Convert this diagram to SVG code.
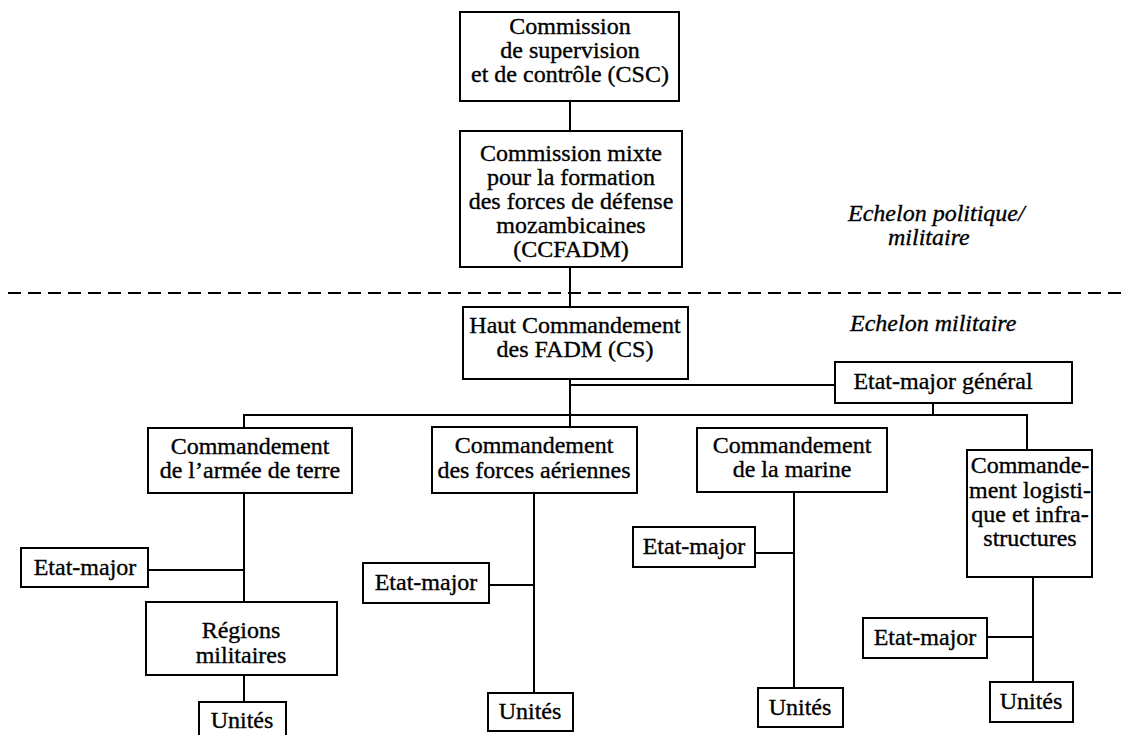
<svg xmlns="http://www.w3.org/2000/svg" width="1131" height="735" viewBox="0 0 1131 735">
<style>
  .box { fill: #ffffff; stroke: #000000; stroke-width: 2; }
  .ln { fill: none; stroke: #000000; stroke-width: 2; }
  .dash { fill: none; stroke: #000000; stroke-width: 2; stroke-dasharray: 13 7; }
  text { font-family: "Liberation Serif", "Times New Roman", serif; font-size: 24px; fill: #000000; stroke: #000000; stroke-width: 0.35; }
  .c { text-anchor: middle; }
  .it { font-style: italic; }
</style>
<rect width="1131" height="735" fill="#ffffff"/>
<g id="connectors">
  <line class="ln" x1="570" y1="101" x2="570" y2="131"/>
  <line class="ln" x1="570" y1="267" x2="570" y2="307"/>
  <line class="dash" x1="8" y1="293" x2="1122" y2="293"/>
  <line class="ln" x1="570" y1="379" x2="570" y2="427"/>
  <line class="ln" x1="570" y1="385" x2="835" y2="385"/>
  <line class="ln" x1="933" y1="403" x2="933" y2="415"/>
  <polyline class="ln" points="244,428 244,415 1027,415 1027,450"/>
  <line class="ln" x1="244" y1="493" x2="244" y2="602"/>
  <line class="ln" x1="148" y1="570" x2="244" y2="570"/>
  <line class="ln" x1="244" y1="675" x2="244" y2="702"/>
  <line class="ln" x1="534" y1="493" x2="534" y2="693"/>
  <line class="ln" x1="489" y1="585" x2="534" y2="585"/>
  <line class="ln" x1="794" y1="492" x2="794" y2="688"/>
  <line class="ln" x1="755" y1="553" x2="794" y2="553"/>
  <line class="ln" x1="1033" y1="577" x2="1033" y2="682"/>
  <line class="ln" x1="987" y1="637" x2="1033" y2="637"/>
</g>
<g id="labels">
  <text class="it" x="848" y="221">Echelon politique/</text>
  <text class="it" x="888" y="245">militaire</text>
  <text class="it" x="850" y="331">Echelon militaire</text>
</g>
<g id="csc">
  <rect class="box" x="460" y="12" width="219" height="89"/>
  <text class="c" x="570" y="34">Commission</text>
  <text class="c" x="570" y="58">de supervision</text>
  <text class="c" x="570" y="82">et de contrôle (CSC)</text>
</g>
<g id="ccfadm">
  <rect class="box" x="460" y="131" width="222" height="136"/>
  <text class="c" x="571" y="161">Commission mixte</text>
  <text class="c" x="571" y="185">pour la formation</text>
  <text class="c" x="571" y="209">des forces de défense</text>
  <text class="c" x="571" y="233">mozambicaines</text>
  <text class="c" x="571" y="257">(CCFADM)</text>
</g>
<g id="haut">
  <rect class="box" x="463" y="307" width="225" height="72"/>
  <text class="c" x="575" y="333">Haut Commandement</text>
  <text class="c" x="575" y="357">des FADM (CS)</text>
</g>
<g id="emg">
  <rect class="box" x="835" y="362" width="237" height="41"/>
  <text class="c" x="943" y="389">Etat-major général</text>
</g>
<g id="armee">
  <rect class="box" x="148" y="428" width="204" height="65"/>
  <text class="c" x="250" y="454">Commandement</text>
  <text class="c" x="250" y="478">de l’armée de terre</text>
</g>
<g id="air">
  <rect class="box" x="432" y="427" width="205" height="66"/>
  <text class="c" x="534" y="453">Commandement</text>
  <text class="c" x="534" y="478">des forces aériennes</text>
</g>
<g id="marine">
  <rect class="box" x="697" y="428" width="190" height="64"/>
  <text class="c" x="792" y="453">Commandement</text>
  <text class="c" x="792" y="477">de la marine</text>
</g>
<g id="logistique">
  <rect class="box" x="967" y="450" width="125" height="127"/>
  <text class="c" x="1030" y="473">Commande-</text>
  <text class="c" x="1030" y="498">ment logisti-</text>
  <text class="c" x="1030" y="522">que et infra-</text>
  <text class="c" x="1030" y="546">structures</text>
</g>
<g id="em-terre">
  <rect class="box" x="21" y="548" width="127" height="39"/>
  <text class="c" x="85" y="575">Etat-major</text>
</g>
<g id="regions">
  <rect class="box" x="146" y="602" width="191" height="73"/>
  <text class="c" x="241" y="638">Régions</text>
  <text class="c" x="241" y="663">militaires</text>
</g>
<g id="unites-terre">
  <rect class="box" x="199" y="702" width="87" height="40"/>
  <text class="c" x="242" y="728">Unités</text>
</g>
<g id="em-air">
  <rect class="box" x="363" y="563" width="126" height="40"/>
  <text class="c" x="426" y="590">Etat-major</text>
</g>
<g id="unites-air">
  <rect class="box" x="488" y="693" width="85" height="38"/>
  <text class="c" x="530" y="719">Unités</text>
</g>
<g id="em-marine">
  <rect class="box" x="633" y="527" width="122" height="40"/>
  <text class="c" x="694" y="554">Etat-major</text>
</g>
<g id="unites-marine">
  <rect class="box" x="758" y="688" width="85" height="39"/>
  <text class="c" x="800" y="715">Unités</text>
</g>
<g id="em-logistique">
  <rect class="box" x="863" y="618" width="124" height="40"/>
  <text class="c" x="925" y="645">Etat-major</text>
</g>
<g id="unites-logistique">
  <rect class="box" x="990" y="682" width="83" height="40"/>
  <text class="c" x="1031" y="709">Unités</text>
</g>
</svg>
